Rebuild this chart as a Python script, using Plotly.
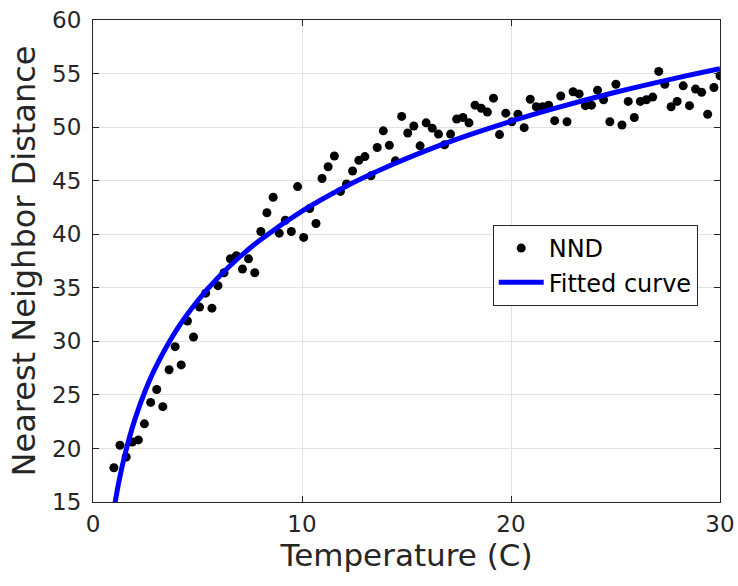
import plotly.graph_objects as go

# Measured data (Nearest Neighbor Distance vs Temperature)
temperature = [1.00, 1.29, 1.59, 1.88, 2.17, 2.46, 2.76, 3.05, 3.34, 3.64,
               3.93, 4.22, 4.52, 4.81, 5.10, 5.39, 5.69, 5.98, 6.27, 6.57,
               6.86, 7.15, 7.44, 7.74, 8.03, 8.32, 8.62, 8.91, 9.20, 9.49,
               9.79, 10.08, 10.37, 10.67, 10.96, 11.25, 11.55, 11.84, 12.13, 12.42,
               12.72, 13.01, 13.30, 13.60, 13.89, 14.18, 14.47, 14.77, 15.06, 15.35,
               15.65, 15.94, 16.23, 16.53, 16.82, 17.11, 17.40, 17.70, 17.99, 18.28,
               18.58, 18.87, 19.16, 19.45, 19.75, 20.04, 20.33, 20.63, 20.92, 21.21,
               21.51, 21.80, 22.09, 22.38, 22.68, 22.97, 23.26, 23.56, 23.85, 24.14,
               24.43, 24.73, 25.02, 25.31, 25.61, 25.90, 26.19, 26.48, 26.78, 27.07,
               27.36, 27.66, 27.95, 28.24, 28.54, 28.83, 29.12, 29.41, 29.71, 30.00]

nnd = [18.2, 20.3, 19.2, 20.6, 20.8, 22.3, 24.3, 25.5, 23.9, 27.35,
       29.5, 27.8, 31.9, 30.4, 33.2, 34.5, 33.1, 35.2, 36.4, 37.7,
       38.0, 36.75, 37.7, 36.4, 40.25, 42.0, 43.45, 40.1, 41.3, 40.25,
       44.45, 39.7, 42.4, 41.0, 45.2, 46.3, 47.3, 44.0, 44.7, 45.9,
       46.9, 47.25, 45.45, 48.1, 49.65, 48.3, 46.85, 51.0, 49.45, 50.1,
       48.25, 50.4, 49.9, 49.35, 48.35, 49.35, 50.75, 50.9, 50.4, 52.05,
       51.75, 51.4, 52.7, 49.3, 51.3, 50.5, 51.2, 49.95, 52.6, 51.9,
       51.9, 52.05, 50.6, 52.9, 50.5, 53.3, 53.1, 52.0, 52.05, 53.45,
       52.55, 50.5, 54.0, 50.2, 52.4, 50.9, 52.4, 52.55, 52.8, 55.2,
       54.0, 51.9, 52.4, 53.85, 52.0, 53.55, 53.25, 51.2, 53.7, 54.8]

# Fitted curve
fit_x = [1.0, 1.25, 1.5, 2.0, 2.5, 3.0, 4.0, 5.0, 6.0, 7.0, 8.0,
         10.0, 12.0, 14.0, 16.0, 18.0, 20.0, 22.0, 25.0, 28.0, 30.0]
fit_y = [14.3, 17.0, 19.2, 22.69, 25.39, 27.59, 31.07, 33.77, 35.98, 37.85, 39.46,
         42.16, 44.37, 46.23, 47.85, 49.27, 50.55, 51.70, 53.25, 54.62, 55.45]

x_ticks = [0, 10, 20, 30]
y_ticks = [15, 20, 25, 30, 35, 40, 45, 50, 55, 60]

TXT = "#262626"
FONT = "DejaVu Sans"

fig = go.Figure()
fig.add_trace(go.Scatter(
    x=temperature, y=nnd, mode="markers", name="NND",
    marker=dict(color="black", size=9),
))
fig.add_trace(go.Scatter(
    x=fit_x, y=fit_y, mode="lines", name="Fitted curve",
    line=dict(color="#0000ff", width=5, shape="spline"),
))

axis_common = dict(
    showline=True, linecolor=TXT, linewidth=1, mirror="ticks",
    ticks="inside", ticklen=6, tickcolor=TXT, tickwidth=1,
    showgrid=True, gridcolor="#e2e2e2", gridwidth=1,
    zeroline=False, automargin=False, ticklabeloverflow="allow",
    tickfont=dict(family=FONT, size=23, color=TXT),
)

fig.update_layout(
    width=738, height=586,
    margin=dict(l=93, r=18, t=20, b=84),
    paper_bgcolor="white", plot_bgcolor="white",
    font=dict(family=FONT, color=TXT),
    xaxis=dict(range=[0, 30], tickvals=x_ticks, ticklabelstandoff=1,
               title=dict(text="Temperature (C)", font=dict(family=FONT, size=31, color=TXT), standoff=0),
               **axis_common),
    yaxis=dict(range=[15, 60], tickvals=y_ticks, ticklabelstandoff=6,
               title=dict(text="Nearest Neighbor Distance", font=dict(family=FONT, size=32, color=TXT), standoff=6),
               **axis_common),
    legend=dict(
        x=0.6375, y=0.5747, xanchor="left", yanchor="top",
        bgcolor="white", bordercolor=TXT, borderwidth=1,
        font=dict(family=FONT, size=24, color="black"),
        tracegroupgap=0, itemwidth=45,
    ),
    showlegend=True,
)

fig.write_html("out.html",
               config={"displayModeBar": False},
               post_script="document.body.style.margin='0';document.body.style.overflow='hidden';")
